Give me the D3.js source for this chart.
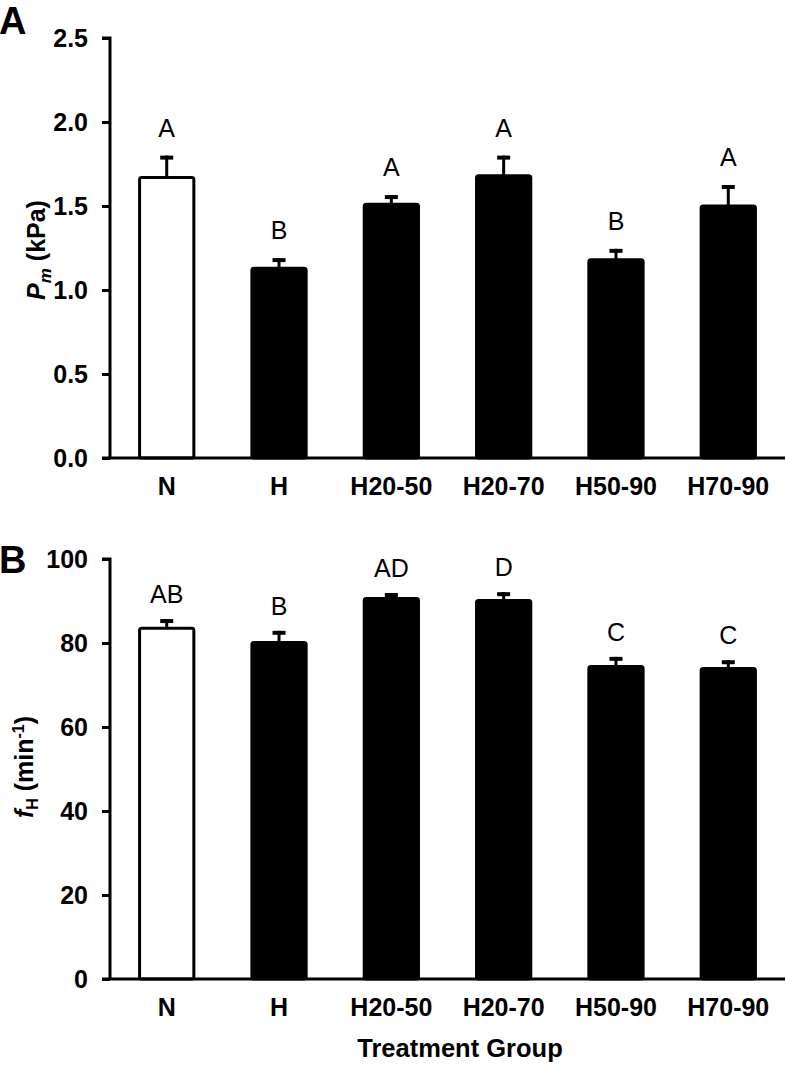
<!DOCTYPE html>
<html>
<head>
<meta charset="utf-8">
<script src="https://cdn.jsdelivr.net/npm/d3@7"></script>
<style>
  html, body { margin: 0; padding: 0; background: #fff; }
  svg { display: block; font-family: "Liberation Sans", Arial, sans-serif; }
</style>
</head>
<body>
<svg id="chart" width="786" height="1069"></svg>
<script>
// ---- data ----
const groups = ["N", "H", "H20-50", "H20-70", "H50-90", "H70-90"];
const fills = ["#fff", "#000", "#000", "#000", "#000", "#000"];

const pmValues = [1.67, 1.13, 1.51, 1.68, 1.18, 1.50];
const pmErrors = [0.13, 0.06, 0.055, 0.12, 0.065, 0.125];
const pmLetters = ["A", "B", "A", "A", "B", "A"];
const pmTicks = [0, 0.5, 1.0, 1.5, 2.0, 2.5];

const fhValues = [83.5, 80.1, 90.6, 90.1, 74.4, 73.9];
const fhErrors = [2.2, 2.8, 1.3, 2.0, 2.3, 2.0];
const fhLetters = ["AB", "B", "AD", "D", "C", "C"];
const fhTicks = [0, 20, 40, 60, 80, 100];

const svg = d3.select("#chart");
const FS = 25;

const x = d3.scaleBand().domain(groups).range([110, 785])
  .paddingInner(0.49).paddingOuter(0.25);

function panel(opts) {
  const { values, errors, letters, ticks, top, bottom, yMax, fmt, letterGap, panelLabel, panelLabelY } = opts;
  const y = d3.scaleLinear().domain([0, yMax]).range([bottom, top]);
  const g = svg.append("g");

  // bars
  g.selectAll("rect.bar").data(groups).join("rect")
    .attr("class", "bar")
    .attr("x", d => x(d) + 1.5)
    .attr("width", x.bandwidth() - 3)
    .attr("y", (d, i) => y(values[i]))
    .attr("height", (d, i) => bottom - y(values[i]))
    .attr("rx", 2)
    .attr("fill", (d, i) => fills[i])
    .attr("stroke", "#000")
    .attr("stroke-width", 3);

  // error bars
  g.selectAll("line.stem").data(groups).join("line")
    .attr("x1", d => x(d) + x.bandwidth() / 2)
    .attr("x2", d => x(d) + x.bandwidth() / 2)
    .attr("y1", (d, i) => y(values[i]))
    .attr("y2", (d, i) => y(values[i] + errors[i]))
    .attr("stroke", "#000").attr("stroke-width", 3);
  g.selectAll("line.cap").data(groups).join("line")
    .attr("x1", d => x(d) + x.bandwidth() / 2 - 6.5)
    .attr("x2", d => x(d) + x.bandwidth() / 2 + 6.5)
    .attr("y1", (d, i) => y(values[i] + errors[i]) + 2)
    .attr("y2", (d, i) => y(values[i] + errors[i]) + 2)
    .attr("stroke", "#000").attr("stroke-width", 4);

  // letters
  g.selectAll("text.letter").data(groups).join("text")
    .attr("x", d => x(d) + x.bandwidth() / 2)
    .attr("y", (d, i) => y(values[i] + errors[i]) - letterGap)
    .attr("text-anchor", "middle")
    .attr("font-size", FS)
    .text((d, i) => letters[i]);

  // y axis
  const yAxis = d3.axisLeft(y).tickValues(ticks).tickFormat(fmt).tickSize(8).tickPadding(14);
  const ya = g.append("g").attr("transform", "translate(110,0)").call(yAxis);
  ya.select(".domain").attr("stroke-width", 3).attr("d", `M-8,${y(yMax)}H0V${bottom}`);
  ya.selectAll(".tick line").attr("stroke-width", 3);
  ya.selectAll(".tick text").attr("font-size", FS).attr("font-weight", "bold")
    .attr("font-family", "Liberation Sans, Arial, sans-serif").attr("fill", "#000");

  // x axis
  const xAxis = d3.axisBottom(x).tickSize(0).tickPadding(19);
  const xa = g.append("g").attr("transform", `translate(0,${bottom})`).call(xAxis);
  xa.select(".domain").attr("stroke-width", 3).attr("d", "M102,0H785");
  xa.selectAll(".tick text").attr("font-size", FS).attr("font-weight", "bold")
    .attr("font-family", "Liberation Sans, Arial, sans-serif").attr("fill", "#000");

  // panel label
  svg.append("text").attr("x", -1).attr("y", panelLabelY)
    .attr("font-size", 38).attr("font-weight", "bold").text(panelLabel);

  return y;
}

const yA = panel({
  values: pmValues, errors: pmErrors, letters: pmLetters, ticks: pmTicks,
  top: 38, bottom: 458, yMax: 2.5, fmt: d3.format(".1f"), letterGap: 19,
  panelLabel: "A", panelLabelY: 34
});

const yB = panel({
  values: fhValues, errors: fhErrors, letters: fhLetters, ticks: fhTicks,
  top: 559, bottom: 979, yMax: 100, fmt: d3.format("d"), letterGap: 16,
  panelLabel: "B", panelLabelY: 573
});

// y titles
const tA = svg.append("text")
  .attr("transform", "translate(45,250) rotate(-90)")
  .attr("text-anchor", "middle").attr("font-size", FS).attr("font-weight", "bold");
tA.append("tspan").attr("font-style", "italic").text("P");
tA.append("tspan").attr("font-style", "italic").attr("font-size", 17).attr("dy", 6).text("m");
tA.append("tspan").attr("dy", -6).text(" (kPa)");

const tB = svg.append("text")
  .attr("transform", "translate(33,767) rotate(-90)")
  .attr("text-anchor", "middle").attr("font-size", FS).attr("font-weight", "bold");
tB.append("tspan").attr("font-style", "italic").text("f");
tB.append("tspan").attr("font-size", 16).attr("dy", 5).text("H");
tB.append("tspan").attr("dy", -5).text(" (min");
tB.append("tspan").attr("font-size", 16).attr("dy", -9).text("-1");
tB.append("tspan").attr("dy", 9).text(")");

// x title
svg.append("text").attr("x", 460).attr("y", 1057).attr("text-anchor", "middle")
  .attr("font-size", FS + 0.5).attr("font-weight", "bold").text("Treatment Group");
</script>
</body>
</html>
